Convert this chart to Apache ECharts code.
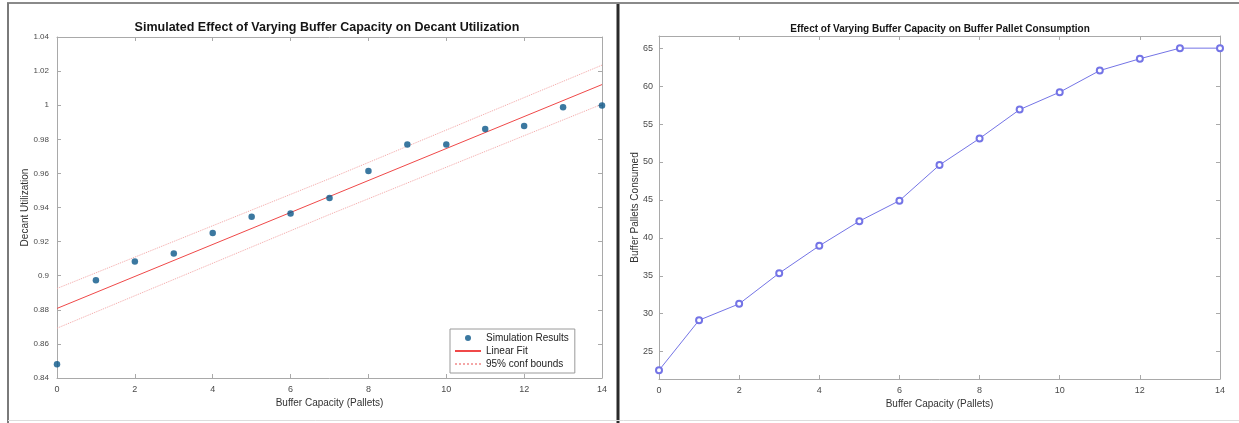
<!DOCTYPE html>
<html><head><meta charset="utf-8">
<script src="https://cdn.jsdelivr.net/npm/echarts@6/dist/echarts.min.js"></script>
<style>html,body{margin:0;padding:0;background:#fff}#c{width:1239px;height:423px}</style>
</head><body><div id="c"></div>
<script>
// ---- data ----
const capacity = [0, 1, 2, 3, 4, 5, 6, 7, 8, 9, 10, 11, 12, 13, 14];
const utilization = [0.848, 0.8973, 0.9083, 0.913, 0.925, 0.9346, 0.9365, 0.9456, 0.9614, 0.9769, 0.9769, 0.986, 0.9878, 0.9988, 0.9998];
const fitX = [0, 14];
const fitY = [0.8808, 1.0121];
const boundX = [0, 7, 14];
const upperBound = [0.8925, 0.9569, 1.0235];
const lowerBound = [0.8692, 0.9359, 1.0006];
const palletsConsumed = [22.55, 29.15, 31.3, 35.35, 38.95, 42.2, 44.9, 49.6, 53.1, 56.9, 59.2, 62.05, 63.6, 65.0, 65.0];
const xTicks = [0, 2, 4, 6, 8, 10, 12, 14];
const leftYTicks = [0.84, 0.86, 0.88, 0.9, 0.92, 0.94, 0.96, 0.98, 1, 1.02, 1.04];
const rightYTicks = [25, 30, 35, 40, 45, 50, 55, 60, 65];
const titles = ['Simulated Effect of Varying Buffer Capacity on Decant Utilization', 'Effect of Varying Buffer Capacity on Buffer Pallet Consumption'];
const xName = 'Buffer Capacity (Pallets)';
const yNames = ['Decant Utilization', 'Buffer Pallets Consumed'];
const legendNames = ['Simulation Results', 'Linear Fit', '95% conf bounds'];

const FONT = '"Liberation Sans", Arial, Helvetica, sans-serif';
const AX = '#a9a9a9';
const LBL = '#4a4a4a';

function zip(xs, ys) { return xs.map((x, i) => [x, ys[i]]); }

function xAxisMain(gi) {
  return {
    type: 'value', gridIndex: gi, position: 'bottom', min: 0, max: 14, interval: 2,
    name: xName, nameLocation: 'middle', nameGap: 20, nameMoveOverlap: false,
    nameTextStyle: { fontFamily: FONT, fontSize: 10, color: '#333' },
    axisLine: { show: true, onZero: false, lineStyle: { color: AX, width: 1 } },
    axisTick: { show: true, inside: true, length: 4, lineStyle: { color: AX } },
    axisLabel: { fontFamily: FONT, fontSize: 9, color: LBL, margin: 7, customValues: xTicks },
    splitLine: { show: false }
  };
}
function xAxisTop(gi) {
  return {
    type: 'value', gridIndex: gi, position: 'top', min: 0, max: 14, interval: 2,
    axisLine: { show: true, onZero: false, lineStyle: { color: AX, width: 1 } },
    axisTick: { show: true, inside: true, length: 4, lineStyle: { color: AX } },
    axisLabel: { show: false }, splitLine: { show: false }
  };
}
function yAxisMain(gi, min, max, ticks, name, nameGap, margin, fs) {
  return {
    type: 'value', gridIndex: gi, position: 'left', min: min, max: max,
    name: name, nameLocation: 'middle', nameGap: nameGap, nameRotate: 90, nameMoveOverlap: false,
    nameTextStyle: { fontFamily: FONT, fontSize: 10, color: '#333' },
    axisLine: { show: true, onZero: false, lineStyle: { color: AX, width: 1 } },
    axisTick: { show: true, inside: true, length: 4, lineStyle: { color: AX }, customValues: ticks },
    axisLabel: { fontFamily: FONT, fontSize: fs, color: LBL, margin: margin, customValues: ticks },
    splitLine: { show: false }
  };
}
function yAxisRight(gi, min, max, ticks) {
  return {
    type: 'value', gridIndex: gi, position: 'right', min: min, max: max,
    axisLine: { show: true, onZero: false, lineStyle: { color: AX, width: 1 } },
    axisTick: { show: true, inside: true, length: 4, lineStyle: { color: AX }, customValues: ticks },
    axisLabel: { show: false }, splitLine: { show: false }
  };
}

const chart = echarts.init(document.getElementById('c'), null, { renderer: 'canvas' });
chart.setOption({
  backgroundColor: '#ffffff',
  animation: false,
  textStyle: { fontFamily: FONT },
  title: [
    { text: titles[0], left: 327, top: 21, textAlign: 'center', padding: 0,
      textStyle: { fontFamily: FONT, fontSize: 12.5, fontWeight: 'bold', color: '#151515' } },
    { text: titles[1], left: 940, top: 24, textAlign: 'center', padding: 0,
      textStyle: { fontFamily: FONT, fontSize: 10, fontWeight: 'bold', color: '#151515' } }
  ],
  grid: [
    { left: 57, top: 37, width: 545, height: 341, containLabel: false },
    { left: 659, top: 36, width: 561, height: 343, containLabel: false }
  ],
  xAxis: [xAxisMain(0), xAxisTop(0), xAxisMain(1), xAxisTop(1)],
  yAxis: [
    yAxisMain(0, 0.84, 1.04, leftYTicks, yNames[0], 27, 8, 8),
    yAxisRight(0, 0.84, 1.04, leftYTicks),
    yAxisMain(1, 21.4, 66.6, rightYTicks, yNames[1], 19, 6, 9),
    yAxisRight(1, 21.4, 66.6, rightYTicks)
  ],
  legend: {
    left: 450, top: 329, orient: 'vertical',
    backgroundColor: '#ffffff', borderColor: '#9a9a9a', borderWidth: 1, borderRadius: 0,
    padding: [4, 6, 4, 4], itemGap: 3, itemWidth: 26, itemHeight: 6,
    textStyle: { fontFamily: FONT, fontSize: 10, color: '#222' },
    data: [
      { name: legendNames[0], icon: 'circle' },
      { name: legendNames[1], itemStyle: { opacity: 0 } },
      { name: legendNames[2], itemStyle: { opacity: 0 } }
    ]
  },
  series: [
    { name: legendNames[0], type: 'scatter', xAxisIndex: 0, yAxisIndex: 0,
      data: zip(capacity, utilization), symbol: 'circle', symbolSize: 6.5,
      itemStyle: { color: '#0a5688' }, z: 5 },
    { name: legendNames[1], type: 'line', xAxisIndex: 0, yAxisIndex: 0,
      data: zip(fitX, fitY), symbol: 'none', lineStyle: { color: '#f04848', width: 1 },
      itemStyle: { color: '#f04848' }, z: 3 },
    { name: legendNames[2], type: 'line', xAxisIndex: 0, yAxisIndex: 0,
      data: zip(boundX, upperBound), symbol: 'none', lineStyle: { color: '#f4a6a6', width: 1, type: 'dotted' },
      itemStyle: { color: '#f4a6a6' }, z: 2 },
    { name: legendNames[2], type: 'line', xAxisIndex: 0, yAxisIndex: 0,
      data: zip(boundX, lowerBound), symbol: 'none', lineStyle: { color: '#f4a6a6', width: 1, type: 'dotted' },
      itemStyle: { color: '#f4a6a6' }, z: 2 },
    { name: 'Buffer Pallets Consumed', type: 'line', xAxisIndex: 2, yAxisIndex: 2,
      data: zip(capacity, palletsConsumed), symbol: 'emptyCircle', symbolSize: 6, showSymbol: true,
      lineStyle: { color: '#7474e6', width: 1 }, itemStyle: { color: '#7474e6', borderWidth: 0.8 } }
  ],
  graphic: [
    { type: 'line', shape: { x1: 7, y1: 3, x2: 1239, y2: 3 }, style: { stroke: '#8a8a8a', lineWidth: 2 } },
    { type: 'line', shape: { x1: 8, y1: 3, x2: 8, y2: 423 }, style: { stroke: '#7a7a7a', lineWidth: 2 } },
    { type: 'line', shape: { x1: 618, y1: 4, x2: 618, y2: 423 }, style: { stroke: '#2a2a2a', lineWidth: 3 } },
    { type: 'line', shape: { x1: 8, y1: 420.5, x2: 1239, y2: 420.5 }, style: { stroke: '#dddddd', lineWidth: 1 } }
  ]
});
</script></body></html>
